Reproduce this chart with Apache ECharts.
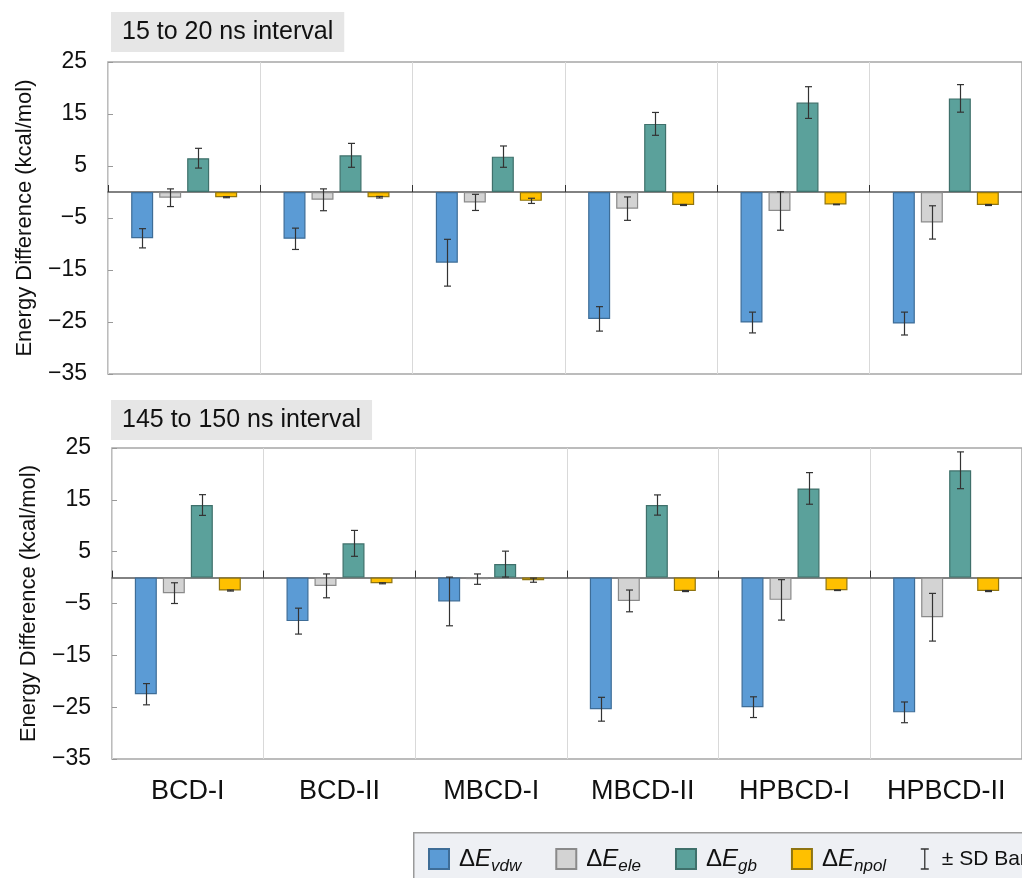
<!DOCTYPE html>
<html>
<head>
<meta charset="utf-8">
<script src="https://cdn.jsdelivr.net/npm/echarts@6/dist/echarts.min.js"></script>
<style>
  html, body { margin: 0; padding: 0; background: #fff; }
  #chart { width: 1022px; height: 878px; }
</style>
</head>
<body>
<div id="chart"></div>
<script>
// categories + tick range
var categories = ["BCD-I", "BCD-II", "MBCD-I", "MBCD-II", "HPBCD-I", "HPBCD-II"];
var yMin = -35, yMax = 25, yStep = 10;

// 15 to 20 ns (top panel)
var topVdw = [-8.9, -9.0, -13.6, -24.4, -25.1, -25.3];
var topVdwSd = [1.85, 2.05, 4.5, 2.35, 2.0, 2.2];
var topEle = [-1.1, -1.5, -2.0, -3.2, -3.65, -5.85];
var topEleSd = [1.7, 2.1, 1.55, 2.25, 3.7, 3.2];
var topGb = [6.5, 7.05, 6.8, 13.1, 17.2, 18.0];
var topGbSd = [1.9, 2.3, 2.05, 2.2, 3.05, 2.65];
var topNpol = [-1.0, -1.0, -1.7, -2.5, -2.4, -2.5];
var topNpolSd = [0.1, 0.15, 0.5, 0.1, 0.05, 0.1];

// 145 to 150 ns (bottom panel)
var botVdw = [-22.5, -8.4, -4.6, -25.4, -25.0, -26.0];
var botVdwSd = [2.05, 2.5, 4.7, 2.3, 2.0, 2.0];
var botEle = [-3.0, -1.6, -0.3, -4.5, -4.3, -7.65];
var botEleSd = [2.0, 2.3, 1.0, 2.1, 3.9, 4.6];
var botGb = [14.0, 6.6, 2.6, 14.0, 17.2, 20.7];
var botGbSd = [2.0, 2.5, 2.5, 1.95, 3.05, 3.55];
var botNpol = [-2.5, -1.1, -0.5, -2.6, -2.45, -2.6];
var botNpolSd = [0.1, 0.1, 0.4, 0.1, 0.05, 0.1];

var terms = ["vdw", "ele", "gb", "npol"];
var fills = ["#5b9bd5", "#d3d3d3", "#5ba19b", "#ffc000"];
var borders = ["#3e6d97", "#8a8a8a", "#3f706b", "#8f7410"];

// bar layout: 22px bars, 6px gap -> centre offsets
var barW = 22, barGapPx = 6;
var barOffsets = [-1.5, -0.5, 0.5, 1.5].map(function (k) { return k * (barW + barGapPx); });

var myChart = echarts.init(document.getElementById("chart"));

function errRender(params, api) {
  var cat = api.value(0), term = api.value(1), v = api.value(2), sd = api.value(3);
  var hi = api.coord([cat, v + sd]);
  var lo = api.coord([cat, v - sd]);
  var x = Math.round(hi[0] + barOffsets[term]) + 0.5;
  var st = { stroke: "#333", lineWidth: 1.2 };
  return {
    type: "group",
    children: [
      { type: "line", shape: { x1: x, y1: hi[1], x2: x, y2: lo[1] }, style: st },
      { type: "line", shape: { x1: x - 3.5, y1: hi[1], x2: x + 3.5, y2: hi[1] }, style: st },
      { type: "line", shape: { x1: x - 3.5, y1: lo[1], x2: x + 3.5, y2: lo[1] }, style: st }
    ]
  };
}

function errData(vals, sds) {
  var arr = [];
  for (var t = 0; t < vals.length; t++) {
    for (var i = 0; i < vals[t].length; i++) {
      arr.push([i, t, vals[t][i], sds[t][i]]);
    }
  }
  return arr;
}

function panelSeries(xIdx, yIdx, vals, sds) {
  var arr = [];
  for (var t = 0; t < terms.length; t++) {
    arr.push({
      name: terms[t],
      type: "bar",
      xAxisIndex: xIdx,
      yAxisIndex: yIdx,
      barWidth: barW,
      barGap: (barGapPx / barW * 100) + "%",
      data: vals[t],
      itemStyle: { color: fills[t], borderColor: borders[t], borderWidth: 1.2 },
      z: 3
    });
  }
  arr.push({
    name: "sd",
    type: "custom",
    xAxisIndex: xIdx,
    yAxisIndex: yIdx,
    renderItem: errRender,
    encode: { x: 0, y: [2] },
    data: errData(vals, sds),
    itemStyle: { color: "#333", borderColor: "#333", borderWidth: 1.3 },
    z: 5
  });
  return arr;
}

function zeroAxis(gridIdx) {
  return {
    type: "category",
    gridIndex: gridIdx,
    data: categories,
    position: "top",
    axisLine: { onZero: true, lineStyle: { color: "#595959", width: 1.5 } },
    axisTick: { show: true, inside: false, length: 7, interval: 0, lineStyle: { color: "#333" } },
    axisLabel: { show: false, interval: 0 },
    splitLine: { show: false }
  };
}

function frameAxis(gridIdx, showLabels) {
  return {
    type: "category",
    gridIndex: gridIdx,
    data: categories,
    position: "bottom",
    axisLine: { onZero: false, show: false },
    axisTick: { show: false, interval: 0 },
    axisLabel: { show: showLabels, interval: 0, fontSize: 27, color: "#111", margin: 19 },
    splitLine: { show: true, interval: 0, lineStyle: { color: "#d9d9d9", width: 1 } }
  };
}

function valAxis(gridIdx) {
  return {
    type: "value",
    gridIndex: gridIdx,
    min: yMin,
    max: yMax,
    interval: yStep,
    name: "Energy Difference (kcal/mol)",
    nameLocation: "middle",
    nameGap: 72,
    nameTextStyle: { fontSize: 22, color: "#111" },
    axisLine: { show: false },
    axisTick: { show: true, inside: true, length: 5, lineStyle: { color: "#999" } },
    axisLabel: {
      fontSize: 23, color: "#111", margin: 21,
      formatter: function (v) { return String(v).replace("-", "\u2212"); }
    },
    splitLine: { show: false }
  };
}

var option = {
  animation: false,
  backgroundColor: "#fff",
  textStyle: { fontFamily: "Liberation Sans, Arial, sans-serif" },
  title: [
    {
      text: "15 to 20 ns interval", left: 111, top: 12,
      backgroundColor: "#e6e6e6", padding: [7, 11, 7, 11],
      textStyle: { fontSize: 25, fontWeight: "normal", color: "#111", lineHeight: 26 }
    },
    {
      text: "145 to 150 ns interval", left: 111, top: 400,
      backgroundColor: "#e6e6e6", padding: [7, 11, 7, 11],
      textStyle: { fontSize: 25, fontWeight: "normal", color: "#111", lineHeight: 26 }
    }
  ],
  graphic: [
    {
      type: "rect", left: 413, top: 832, z: -1,
      shape: { width: 700, height: 100 },
      style: { fill: "#eef0f4", stroke: "#9a9a9a", lineWidth: 1.5 }
    }
  ],
  legend: {
    left: 428,
    top: 847,
    width: 800,
    padding: 0,
    itemWidth: 20,
    itemHeight: 20,
    itemGap: 34,
    icon: "rect",
    selectedMode: false,
    data: [
      { name: "vdw" }, { name: "ele" }, { name: "gb" }, { name: "npol" },
      {
        name: "sd",
        icon: "path://M0,0L8,0M4,0L4,20M0,20L8,20",
        itemStyle: { color: "#333", borderColor: "#333", borderWidth: 1.3 }
      }
    ],
    formatter: function (name) {
      if (name === "sd") return "{p|\u00b1 SD Bar}";
      return "{d|\u0394}{e|E}{s|" + name + "}";
    },
    textStyle: {
      color: "#111",
      rich: {
        d: { fontSize: 24, color: "#111", padding: [0, 0, 0, 5] },
        e: { fontSize: 24, color: "#111", fontStyle: "italic" },
        s: { fontSize: 17, color: "#111", fontStyle: "italic", padding: [14, 0, 0, 0] },
        p: { fontSize: 21, color: "#111", padding: [0, 0, 0, 2] }
      }
    }
  },
  grid: [
    { left: 108, top: 62, width: 928, height: 312, show: true, borderColor: "#a6a6a6", borderWidth: 1.5, backgroundColor: "transparent" },
    { left: 112, top: 448, width: 924, height: 311, show: true, borderColor: "#a6a6a6", borderWidth: 1.5, backgroundColor: "transparent" }
  ],
  xAxis: [zeroAxis(0), frameAxis(0, false), zeroAxis(1), frameAxis(1, true)],
  yAxis: [valAxis(0), valAxis(1)],
  series: []
    .concat(panelSeries(0, 0, [topVdw, topEle, topGb, topNpol], [topVdwSd, topEleSd, topGbSd, topNpolSd]))
    .concat(panelSeries(2, 1, [botVdw, botEle, botGb, botNpol], [botVdwSd, botEleSd, botGbSd, botNpolSd]))
};

myChart.setOption(option);
</script>
</body>
</html>
